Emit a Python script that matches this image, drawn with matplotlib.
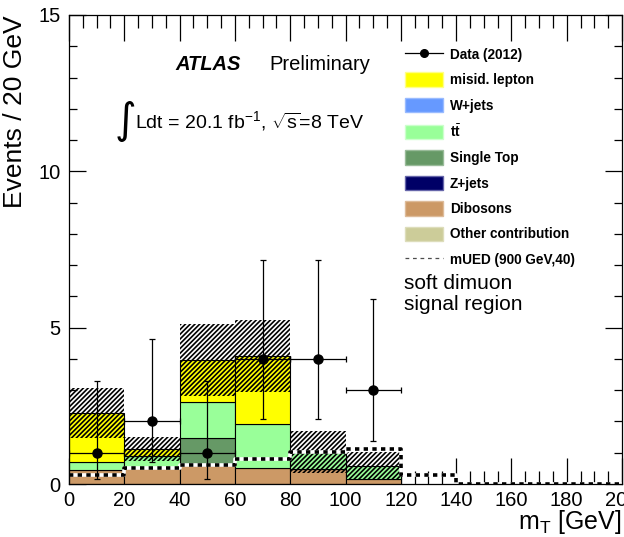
import numpy as np
import matplotlib
matplotlib.use("Agg")
import matplotlib.pyplot as plt
from matplotlib.patches import Patch
from matplotlib.lines import Line2D

plt.rcParams['font.family'] = ['Liberation Sans', 'DejaVu Sans']
plt.rcParams['mathtext.fontset'] = 'custom'
plt.rcParams['mathtext.rm'] = 'Liberation Sans'
plt.rcParams['mathtext.it'] = 'Liberation Sans:italic'
plt.rcParams['mathtext.bf'] = 'Liberation Sans:bold'
plt.rcParams['hatch.linewidth'] = 1.2

# bins de m_T (GeV)
edges = np.arange(0, 220, 20)
centers = edges[:-1] + 10

# fundos empilhados (eventos / 20 GeV)
dibosons = [0.45, 0.51, 0.61, 0.51, 0.48, 0.16, 0, 0, 0, 0]
zjets = [0, 0, 0, 0, 0, 0, 0, 0, 0, 0]
single_top = [0, 0, 0.85, 0, 0, 0, 0, 0, 0, 0]
ttbar = [0.26, 0.39, 1.15, 1.40, 0.55, 0.43, 0, 0, 0, 0]
wjets = [0, 0, 0, 0, 0, 0, 0, 0, 0, 0]
misid = [1.56, 0.22, 1.36, 2.17, 0, 0, 0, 0, 0, 0]
other = [0, 0, 0, 0, 0, 0, 0, 0, 0, 0]
# incerteza do fundo total
unc = [0.80, 0.39, 1.15, 1.15, 0.67, 0.44, 0, 0, 0, 0]
# sinal mUED
mued = [0.29, 0.51, 0.60, 0.79, 1.03, 1.12, 0.30, 0, 0, 0]

# dados 2012
data_x = [10, 30, 50, 70, 90, 110]
data_y = [1, 2, 1, 4, 4, 3]
data_lo = [0.17, 0.71, 0.17, 2.09, 2.09, 1.37]
data_hi = [3.30, 4.64, 3.30, 7.16, 7.16, 5.92]

cores = {
    'misid': '#ffff00', 'wjets': '#6699ff', 'ttbar': '#99ff99',
    'single_top': '#669966', 'zjets': '#000066', 'dibosons': '#cc9966',
    'other': '#cccc99',
}

fig = plt.figure(figsize=(6.24, 5.37), dpi=100)
ax = fig.add_axes([69 / 624, 53 / 537, 553 / 624, 469 / 537])

# pilha de histogramas
pilha = [(dibosons, 'dibosons'), (zjets, 'zjets'), (single_top, 'single_top'),
         (ttbar, 'ttbar'), (wjets, 'wjets'), (misid, 'misid'), (other, 'other')]
base = np.zeros(len(centers))
for vals, nome in pilha:
    vals = np.array(vals)
    sel = vals > 0
    ax.bar(edges[:-1][sel], vals[sel], bottom=base[sel], width=20, align='edge',
           color=cores[nome], edgecolor='black', linewidth=0.8, zorder=2)
    base = base + vals
total = base

# banda de incerteza
unc = np.array(unc)
sel = unc > 0
ax.bar(edges[:-1][sel], 2 * unc[sel], bottom=(total - unc)[sel], width=20,
       align='edge', fill=False, hatch='///////', edgecolor='black',
       linewidth=0, zorder=3)

# sinal mUED
mued_step = np.append(mued, mued[-1])
ax.step(edges, mued_step, where='post', color='white', lw=2.6, zorder=4)
ax.step(edges, mued_step, where='post', color='black', lw=2.6,
        dashes=(1.2, 1.2), zorder=4)

# dados
ax.errorbar(data_x, data_y, xerr=10,
            yerr=[np.array(data_y) - np.array(data_lo), np.array(data_hi) - np.array(data_y)],
            fmt='o', color='black', ms=6.5, elinewidth=0.9, capsize=2, capthick=0.9,
            zorder=5)

ax.set_xlim(0, 200)
ax.set_ylim(0, 15)
ax.set_xticks(np.arange(0, 201, 20))
ax.set_xticks(np.arange(0, 201, 5), minor=True)
ax.set_yticks([0, 5, 10, 15])
ax.set_yticks(np.arange(0, 16, 1), minor=True)
ax.tick_params(direction='in', top=True, right=True, which='both', labelsize=14.5)
ax.tick_params(axis='x', which='major', length=19, width=0.9, pad=5)
ax.tick_params(axis='x', which='minor', length=9.5, width=0.9)
ax.tick_params(axis='y', which='major', length=12, width=0.9, pad=6)
ax.tick_params(axis='y', which='minor', length=6, width=0.9)
for s in ax.spines.values():
    s.set_linewidth(0.9)
    s.set_zorder(6)

ax.set_ylabel('Events / 20 GeV', fontsize=19, loc='top')
ax.yaxis.set_label_coords((27 - 69) / 553, 1.0)
ax.set_xlabel(r'm$_{\mathregular{T}}$ [GeV]', fontsize=18, loc='right')
ax.xaxis.set_label_coords(1.0, -0.052)

# textos
ax.text((175 - 69) / 553, (484 - 65) / 469, 'ATLAS', transform=ax.transAxes,
        fontsize=14.5, fontweight='bold', fontstyle='italic', va='center')
ax.text((269 - 69) / 553, (484 - 65) / 469, 'Preliminary', transform=ax.transAxes,
        fontsize=14.5, va='center')
ax.text((115 - 69) / 553, (484 - 121) / 469, '\u222b', transform=ax.transAxes,
        fontsize=30, va='center', family='DejaVu Sans')
ax.text((135 - 69) / 553, (484 - 121) / 469,
        r'Ldt = 20.1 fb$^{\mathregular{-1}}$, $\sqrt{\mathregular{s}}$=8 TeV',
        transform=ax.transAxes, fontsize=14, va='center')
ax.text((404 - 69) / 553, (484 - 294) / 469, 'soft dimuon\nsignal region',
        transform=ax.transAxes, fontsize=15, va='center', linespacing=1.1)

# legenda
handles = [
    Line2D([], [], color='black', marker='o', ms=5.5, lw=0.9),
    Patch(facecolor=cores['misid'], edgecolor='#ffff88'),
    Patch(facecolor=cores['wjets'], edgecolor='#99bbff'),
    Patch(facecolor=cores['ttbar'], edgecolor='#ccffcc'),
    Patch(facecolor=cores['single_top'], edgecolor='#99bb99'),
    Patch(facecolor=cores['zjets'], edgecolor='#6666aa'),
    Patch(facecolor=cores['dibosons'], edgecolor='#ddbb99'),
    Patch(facecolor=cores['other'], edgecolor='#ddddbb'),
    Line2D([], [], color='0.3', lw=0.9, dashes=(3, 3)),
]
labels = ['Data (2012)', 'misid. lepton', 'W+jets', r'$\mathbf{t}\bar{\mathbf{t}}$',
          'Single Top', 'Z+jets', 'Dibosons', 'Other contribution',
          'mUED (900 GeV,40)']
leg = ax.legend(handles, labels, loc='upper left',
                bbox_to_anchor=((405 - 69) / 553, (484 - 47) / 469),
                frameon=False, borderaxespad=0, borderpad=0,
                prop={'size': 9.8, 'weight': 'bold'},
                handlelength=2.8, handleheight=1.25, labelspacing=0.78,
                handletextpad=0.5)

fig.savefig('out.png', dpi=100)
